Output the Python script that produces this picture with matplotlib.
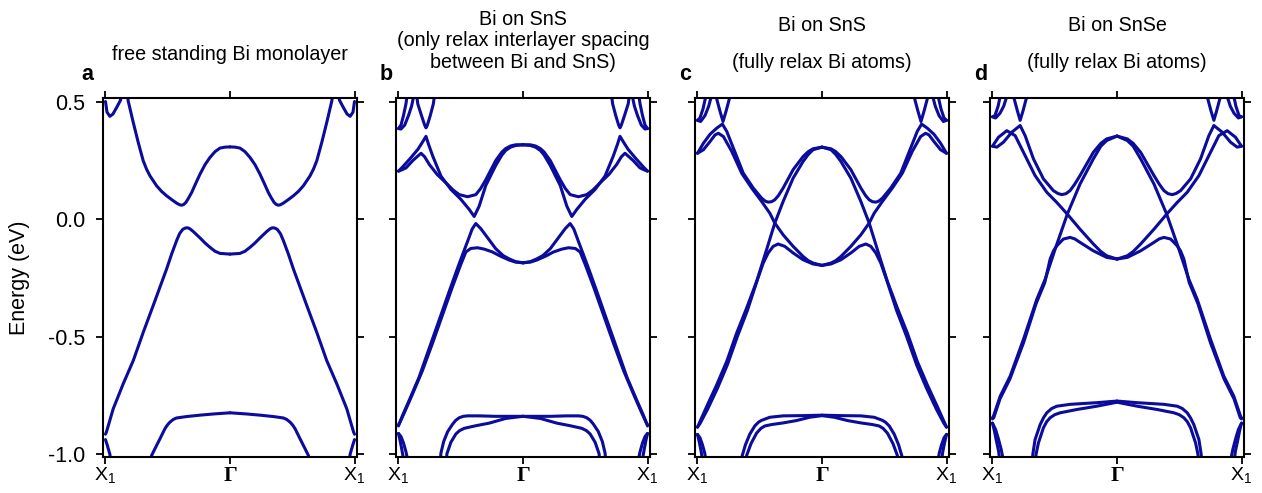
import matplotlib.pyplot as plt

plt.rcParams["font.family"] = ["Liberation Sans", "DejaVu Sans"]
plt.rcParams["mathtext.fontset"] = "custom"
plt.rcParams["mathtext.rm"] = "Liberation Sans"

BAND_COLOR = "#0b0b9c"

# Each band is a list of (k, E) with k = 0 at X1 and k = 1 at Gamma.
# The path X1-Gamma-X1 is symmetric, so every band is drawn on both halves.

# a: free standing Bi monolayer
a_pocket = [(0.0, 0.50), (0.012, 0.455), (0.035, 0.437), (0.06, 0.447),
            (0.09, 0.475), (0.12, 0.505), (0.13, 0.53)]
a_cond = [(0.175, 0.53), (0.182, 0.503), (0.223, 0.411), (0.263, 0.326),
          (0.303, 0.248), (0.33, 0.212), (0.357, 0.184), (0.41, 0.142),
          (0.45, 0.118), (0.491, 0.099), (0.531, 0.083), (0.571, 0.068),
          (0.595, 0.061), (0.611, 0.059), (0.628, 0.062), (0.646, 0.071),
          (0.668, 0.09), (0.692, 0.113), (0.725, 0.152), (0.759, 0.191),
          (0.8, 0.232), (0.839, 0.262), (0.88, 0.287), (0.92, 0.302),
          (0.96, 0.306), (1.0, 0.307)]
a_val = [(0.0, -0.915), (0.008, -0.905), (0.062, -0.807), (0.142, -0.701),
         (0.223, -0.602), (0.303, -0.482), (0.383, -0.368), (0.437, -0.29),
         (0.491, -0.212), (0.531, -0.149), (0.571, -0.092), (0.595, -0.062),
         (0.62, -0.044), (0.641, -0.038), (0.66, -0.037), (0.68, -0.042),
         (0.705, -0.053), (0.759, -0.08), (0.8, -0.102), (0.839, -0.12),
         (0.88, -0.137), (0.92, -0.146), (1.0, -0.149)]
a_deep = [(0.365, -1.02), (0.37, -1.006), (0.397, -0.977), (0.437, -0.935),
          (0.477, -0.892), (0.497, -0.876), (0.517, -0.864), (0.545, -0.852),
          (0.571, -0.846), (0.651, -0.84), (0.759, -0.834), (0.866, -0.829),
          (1.0, -0.824)]
a_edge = [(0.0, -0.938), (0.015, -0.963), (0.035, -1.0), (0.04, -1.02)]

# b: Bi on SnS, only interlayer spacing relaxed
b_pocket1 = [(0.0, 0.385), (0.02, 0.40), (0.04, 0.44), (0.06, 0.49), (0.07, 0.53)]
b_pocket2 = [(0.0, 0.385), (0.02, 0.383), (0.05, 0.40), (0.08, 0.44),
             (0.105, 0.48), (0.125, 0.53)]
b_pocket3 = [(0.145, 0.53), (0.155, 0.49), (0.185, 0.44), (0.21, 0.40),
             (0.221, 0.388), (0.232, 0.40), (0.255, 0.44), (0.28, 0.49), (0.29, 0.53)]
b_cond1 = [(0.0, 0.204), (0.03, 0.22), (0.088, 0.254), (0.155, 0.296),
           (0.19, 0.325), (0.221, 0.352), (0.24, 0.32), (0.275, 0.268),
           (0.341, 0.183), (0.421, 0.126), (0.501, 0.084), (0.568, 0.041),
           (0.608, 0.011), (0.648, 0.055), (0.701, 0.143), (0.781, 0.228),
           (0.83, 0.272), (0.861, 0.292), (0.9, 0.306), (0.941, 0.313),
           (1.0, 0.316)]
b_cond2 = [(0.0, 0.204), (0.03, 0.21), (0.061, 0.218), (0.115, 0.249),
           (0.181, 0.28), (0.21, 0.265), (0.248, 0.232), (0.31, 0.19),
           (0.381, 0.154), (0.44, 0.123), (0.488, 0.104), (0.555, 0.095),
           (0.621, 0.104), (0.66, 0.13), (0.701, 0.167), (0.781, 0.249),
           (0.83, 0.285), (0.861, 0.30), (0.9, 0.311), (0.941, 0.316), (1.0, 0.316)]
b_val1 = [(0.0, -0.88), (0.005, -0.872), (0.032, -0.836), (0.085, -0.772),
          (0.165, -0.673), (0.245, -0.552), (0.325, -0.432), (0.405, -0.311),
          (0.472, -0.212), (0.512, -0.155), (0.552, -0.099), (0.592, -0.042),
          (0.621, -0.019), (0.66, -0.04), (0.701, -0.069), (0.781, -0.126),
          (0.84, -0.155), (0.888, -0.169), (0.94, -0.181), (1.0, -0.186)]
b_val2 = [(0.0, -0.875), (0.011, -0.865), (0.045, -0.826), (0.112, -0.745),
          (0.192, -0.645), (0.272, -0.53), (0.352, -0.41), (0.432, -0.29),
          (0.499, -0.195), (0.541, -0.14), (0.58, -0.125), (0.635, -0.122),
          (0.69, -0.128), (0.755, -0.14), (0.82, -0.158), (0.888, -0.174),
          (0.94, -0.183), (1.0, -0.186)]
b_deep1 = [(0.337, -1.02), (0.341, -0.995), (0.363, -0.946), (0.395, -0.904),
           (0.435, -0.872), (0.46, -0.856), (0.488, -0.845), (0.52, -0.839),
           (0.555, -0.837), (0.648, -0.837), (0.781, -0.839), (1.0, -0.839)]
b_deep2 = [(0.385, -1.02), (0.389, -0.998), (0.421, -0.949), (0.461, -0.914),
           (0.49, -0.9), (0.528, -0.89), (0.621, -0.879), (0.728, -0.868),
           (0.861, -0.848), (1.0, -0.839)]
b_edge1 = [(0.0, -0.912), (0.012, -0.94), (0.025, -0.975), (0.04, -1.02)]
b_edge2 = [(0.0, -0.912), (0.02, -0.925), (0.04, -0.952), (0.06, -0.99), (0.072, -1.02)]

# c: Bi on SnS, Bi atoms fully relaxed
c_pocket1 = [(0.0, 0.42), (0.02, 0.43), (0.045, 0.47), (0.07, 0.53)]
c_pocket2 = [(0.0, 0.42), (0.025, 0.415), (0.06, 0.44), (0.09, 0.48), (0.115, 0.53)]
c_pocket3 = [(0.145, 0.53), (0.18, 0.46), (0.205, 0.415), (0.23, 0.46), (0.265, 0.53)]
c_cond = [(0.0, 0.28), (0.048, 0.323), (0.101, 0.361), (0.155, 0.387),
          (0.2, 0.404), (0.235, 0.373), (0.288, 0.302), (0.368, 0.195),
          (0.448, 0.132), (0.515, 0.089), (0.545, 0.076), (0.568, 0.072),
          (0.595, 0.074), (0.621, 0.082), (0.65, 0.1), (0.688, 0.132),
          (0.768, 0.21), (0.848, 0.266), (0.89, 0.287), (0.928, 0.299), (1.0, 0.306)]
c_cross1 = [(0.0, 0.28), (0.048, 0.295), (0.101, 0.33), (0.141, 0.358),
            (0.168, 0.365), (0.208, 0.351), (0.275, 0.288), (0.355, 0.195),
            (0.435, 0.132), (0.515, 0.075), (0.581, 0.025), (0.621, -0.017),
            (0.688, -0.067), (0.768, -0.116), (0.848, -0.159), (0.89, -0.177),
            (0.928, -0.187), (1.0, -0.197)]
c_cross2 = [(0.0, -0.885), (0.021, -0.86), (0.075, -0.796), (0.155, -0.704),
            (0.235, -0.605), (0.315, -0.484), (0.395, -0.378), (0.475, -0.265),
            (0.555, -0.13), (0.621, -0.017), (0.688, 0.075), (0.768, 0.174),
            (0.848, 0.245), (0.89, 0.275), (0.928, 0.295), (1.0, 0.306)]
c_val = [(0.0, -0.885), (0.02, -0.87), (0.08, -0.81), (0.16, -0.72),
         (0.24, -0.62), (0.32, -0.5), (0.40, -0.39), (0.48, -0.26),
         (0.528, -0.187), (0.568, -0.144), (0.608, -0.116), (0.648, -0.106),
         (0.701, -0.116), (0.768, -0.144), (0.848, -0.173), (0.928, -0.191),
         (1.0, -0.197)]
c_deep1 = [(0.355, -1.02), (0.36, -1.005), (0.385, -0.96), (0.42, -0.915),
           (0.46, -0.88), (0.49, -0.864), (0.515, -0.856), (0.581, -0.843),
           (0.688, -0.837), (0.848, -0.836), (1.0, -0.834)]
c_deep2 = [(0.39, -1.02), (0.395, -1.005), (0.43, -0.955), (0.475, -0.91),
           (0.51, -0.89), (0.541, -0.88), (0.595, -0.874), (0.688, -0.867),
           (0.795, -0.857), (0.901, -0.843), (1.0, -0.836)]
c_edge1 = [(0.0, -0.916), (0.015, -0.95), (0.03, -0.99), (0.038, -1.02)]
c_edge2 = [(0.0, -0.916), (0.02, -0.93), (0.04, -0.96), (0.058, -0.995), (0.066, -1.02)]

# d: Bi on SnSe, Bi atoms fully relaxed
d_pocket1 = [(0.0, 0.435), (0.02, 0.44), (0.045, 0.48), (0.065, 0.53)]
d_pocket2 = [(0.0, 0.435), (0.025, 0.43), (0.06, 0.45), (0.09, 0.48), (0.12, 0.53)]
d_pocket3 = [(0.165, 0.53), (0.2, 0.46), (0.222, 0.42), (0.245, 0.46), (0.28, 0.53)]
d_cond = [(0.0, 0.31), (0.035, 0.306), (0.088, 0.327), (0.156, 0.37),
          (0.222, 0.398), (0.262, 0.355), (0.329, 0.256), (0.409, 0.171),
          (0.489, 0.121), (0.525, 0.109), (0.556, 0.104), (0.59, 0.108),
          (0.623, 0.121), (0.66, 0.148), (0.703, 0.185), (0.81, 0.284),
          (0.87, 0.322), (0.917, 0.341), (1.0, 0.353)]
d_cross1 = [(0.0, 0.31), (0.048, 0.348), (0.115, 0.376), (0.182, 0.355),
            (0.262, 0.27), (0.342, 0.185), (0.436, 0.114), (0.516, 0.071),
            (0.601, 0.021), (0.703, -0.043), (0.81, -0.106), (0.87, -0.138),
            (0.917, -0.156), (1.0, -0.17)]
d_cross2 = [(0.0, -0.845), (0.008, -0.838), (0.062, -0.753), (0.142, -0.668),
            (0.249, -0.511), (0.356, -0.341), (0.423, -0.256), (0.503, -0.128),
            (0.601, 0.021), (0.703, 0.149), (0.81, 0.256), (0.87, 0.31),
            (0.917, 0.334), (1.0, 0.353)]
d_val = [(0.0, -0.85), (0.01, -0.845), (0.06, -0.765), (0.14, -0.68),
         (0.25, -0.525), (0.35, -0.36), (0.42, -0.27), (0.463, -0.17),
         (0.49, -0.135), (0.516, -0.114), (0.569, -0.085), (0.623, -0.078),
         (0.66, -0.084), (0.703, -0.099), (0.81, -0.135), (0.917, -0.163),
         (1.0, -0.17)]
d_deep1 = [(0.322, -1.02), (0.324, -1.0), (0.342, -0.938), (0.383, -0.874),
           (0.41, -0.845), (0.436, -0.824), (0.475, -0.806), (0.516, -0.796),
           (0.623, -0.788), (0.837, -0.781), (1.0, -0.774)]
d_deep2 = [(0.347, -1.02), (0.35, -1.0), (0.369, -0.952), (0.409, -0.888),
           (0.435, -0.862), (0.463, -0.845), (0.5, -0.832), (0.543, -0.824),
           (0.677, -0.81), (0.837, -0.796), (1.0, -0.779)]
d_edge1 = [(0.0, -0.868), (0.015, -0.9), (0.03, -0.94), (0.05, -0.99), (0.056, -1.02)]
d_edge2 = [(0.0, -0.868), (0.025, -0.895), (0.045, -0.93), (0.07, -0.98), (0.085, -1.02)]

PANELS = [
    ("a", [a_pocket, a_cond, a_val, a_deep, a_edge]),
    ("b", [b_pocket1, b_pocket2, b_pocket3, b_cond1, b_cond2, b_val1, b_val2,
           b_deep1, b_deep2, b_edge1, b_edge2]),
    ("c", [c_pocket1, c_pocket2, c_pocket3, c_cond, c_cross1, c_cross2, c_val,
           c_deep1, c_deep2, c_edge1, c_edge2]),
    ("d", [d_pocket1, d_pocket2, d_pocket3, d_cond, d_cross1, d_cross2, d_val,
           d_deep1, d_deep2, d_edge1, d_edge2]),
]

# (text, height above the frame in axes fraction) for each panel
TITLES = {
    "a": [("free standing Bi monolayer", 1.12)],
    "b": [("Bi on SnS\n(only relax interlayer spacing\nbetween Bi and SnS)", 1.159)],
    "c": [("Bi on SnS", 1.203), ("(fully relax Bi atoms)", 1.10)],
    "d": [("Bi on SnSe", 1.203), ("(fully relax Bi atoms)", 1.10)],
}

LEFTS = [103, 396, 695, 990]
LETTER_X = [87, 386, 685, 981]
W_PX, H_PX = 1262, 493

fig = plt.figure(figsize=(W_PX / 100, H_PX / 100), dpi=100)

for i, (letter, bands) in enumerate(PANELS):
    ax = fig.add_axes([LEFTS[i] / W_PX, 36 / H_PX, 254 / W_PX, 359 / H_PX])
    for band in bands:
        k = [p[0] for p in band]
        e = [p[1] for p in band]
        for xs in ([x - 1 for x in k], [1 - x for x in k]):
            ax.plot(xs, e, color=BAND_COLOR, lw=2.2,
                    solid_capstyle="round", solid_joinstyle="round")

    ax.set_xlim(-1.02, 1.02)
    ax.set_ylim(-1.012, 0.515)
    ax.set_xticks([-1, 0, 1], ["X$_1$", "Γ", "X$_1$"])
    ax.set_yticks([-1.0, -0.5, 0.0, 0.5])
    ax.set_yticklabels(["-1.0", "-0.5", "0.0", "0.5"])
    ax.tick_params(axis="both", direction="out", top=True, right=True,
                   length=5, width=1.3)
    ax.tick_params(axis="x", pad=1.5, labelsize=14)
    ax.tick_params(axis="y", pad=8, labelsize=15.5, labelleft=(i == 0))
    gamma = ax.get_xticklabels()[1]
    gamma.set_fontfamily("Liberation Serif")
    gamma.set_fontweight("bold")
    gamma.set_fontsize(15.5)
    for s in ax.spines.values():
        s.set_linewidth(1.5)

    for text, y in TITLES[letter]:
        ax.text(0.5, y, text, transform=ax.transAxes, ha="center", va="center",
                fontsize=14.2, linespacing=1.17)

    fig.text(LETTER_X[i] / W_PX, 1 - 75 / H_PX, letter, ha="center",
             va="center", fontsize=15.5, fontweight="bold")

fig.text(20 / W_PX, 1 - 278 / H_PX, "Energy (eV)", rotation=90,
         ha="center", va="center", fontsize=15.5)

fig.savefig("out.png", dpi=100)
